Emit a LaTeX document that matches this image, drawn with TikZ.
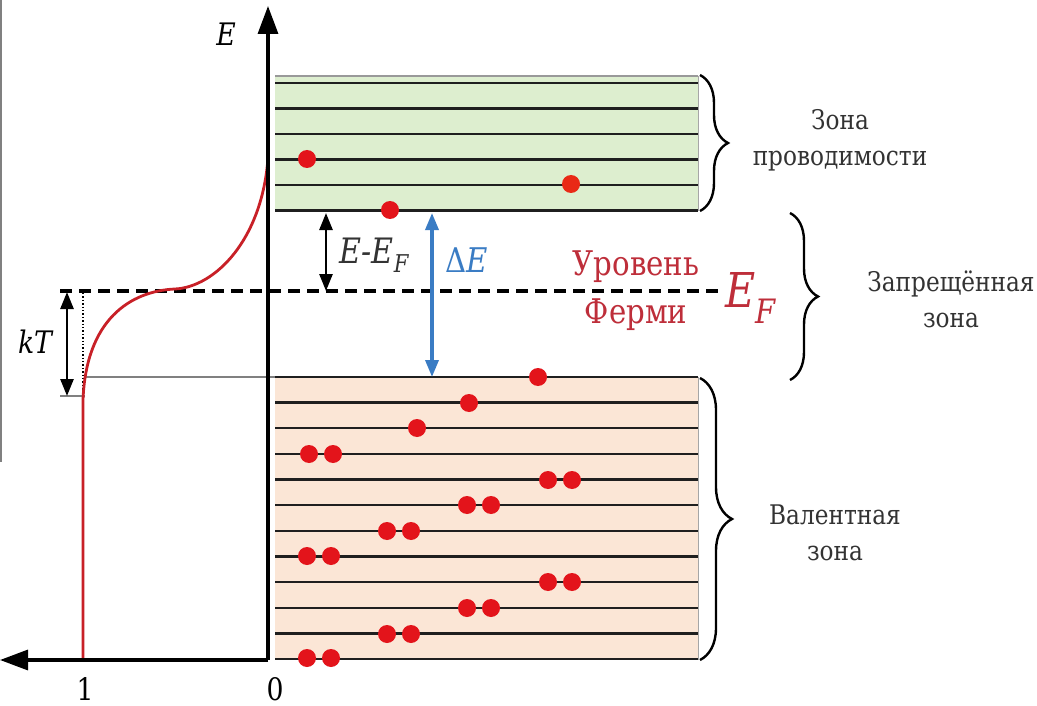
\documentclass[tikz,border=0pt]{standalone}
\usepackage{fontspec}
\setmainfont{DejaVu Serif}[FakeStretch=0.86]
\newfontfamily\tnr{DejaVu Serif}[FakeStretch=0.86]
\usetikzlibrary{arrows.meta,decorations.pathreplacing}
\definecolor{cbfill}{HTML}{DDEECF}
\definecolor{vbfill}{HTML}{FBE6D6}
\definecolor{elec}{HTML}{E3141B}
\definecolor{fermired}{HTML}{BE2E3A}
\definecolor{dEblue}{HTML}{3A7CC4}
\definecolor{curvered}{HTML}{C82027}
\definecolor{txtgray}{HTML}{333333}
\begin{document}
\begin{tikzpicture}[x=1pt,y=-1pt,
  axisline/.style={line width=3.2pt, -{Triangle[length=28pt,width=20pt]}},
  level/.style={line width=2.4pt, draw=black!88},
  electron/.style={circle, fill=elec, inner sep=0pt, minimum size=18pt},
  dimarrow/.style={line width=2.6pt, {Triangle[length=17pt,width=13pt]}-{Triangle[length=17pt,width=13pt]}},
  bandbrace/.style={decorate, decoration={brace, amplitude=28pt}, line width=2.4pt},
  lbl/.style={font=\tnr\fontsize{27}{36}\selectfont, align=center, text=txtgray},
  ax/.style={font=\tnr\fontsize{31}{40}\selectfont, inner sep=0pt},
]
\useasboundingbox (0,0) rectangle (1037,706);
\fill[white] (0,0) rectangle (1037,706);
\draw[gray, line width=2pt] (1,0) -- (1,462);

% conduction band
\fill[cbfill] (275,75) rectangle (698,211);
\draw[gray!80, line width=2pt] (275,76) -- (698,76);
\draw[gray!70, line width=1pt] (698,76) -- (698,211);
\foreach \y in {83,108.5,134,159.5,185,210.5} \draw[level] (275,\y) -- (698,\y);

% valence band
\fill[vbfill] (275,377) rectangle (698,660);
\draw[gray!70, line width=1pt] (698,377) -- (698,660);
\foreach \i in {0,...,11} \draw[level] (275,{377+25.64*\i}) -- (698,{377+25.64*\i});

% guide lines
\draw[gray, line width=1.2pt] (85,377) -- (275,377);
\draw[gray, line width=1.2pt] (60,396) -- (85,396);
\draw[black, dotted, line width=1.4pt] (83,293) -- (83,396);

% Fermi level
\coordinate (fl) at (60,291);
\coordinate (fr) at (722,291);
\draw[line width=4.5pt, dash pattern=on 12pt off 7pt] (fl) -- (fr);

% Fermi-Dirac curve
\coordinate (f0) at (83,660);
\coordinate (f1) at (83,400);
\coordinate (fm) at (175,289);
\coordinate (f2) at (268,158);
\draw[curvered, line width=2.8pt] (f0) -- (f1) .. controls (86,320) and (130,291) .. (fm) .. controls (215,287) and (262,240) .. (f2);

% axes
\coordinate (o) at (268,660);
\coordinate (etop) at (268,6);
\coordinate (xleft) at (0,660);
\draw[axisline] (o) -- (etop);
\draw[axisline] (o) -- (xleft);
\node[ax, font=\tnr\fontsize{31}{40}\itshape] (Elab) at (226,34) {E};
\node[ax] (one) at (85,689) {1};
\node[ax] (zero) at (275,689) {0};

% electrons conduction band
\node[electron] (c1) at (307,159) {};
\node[electron, fill=elec!80!orange] (c2) at (571,184) {};
\node[electron] (c3) at (390,210) {};

% electrons valence band
\node[electron] (v1) at (538,377) {};
\node[electron] (v2) at (469,403) {};
\node[electron] (v3) at (417,428) {};
\foreach \x/\y [count=\k] in {309/454, 548/480, 467/505, 387/531, 307/556, 548/582, 467/608, 387/634, 307/658} {
  \node[electron] (p\k a) at (\x,\y) {};
  \node[electron] (p\k b) at (\x+24,\y) {};
}

% kT arrow
\coordinate (kt1) at (67,292);
\coordinate (kt2) at (67,396);
\draw[dimarrow] (kt1) -- (kt2);
\node[ax, font=\tnr\fontsize{31}{40}\itshape] (kT) at (35,342) {kT};

% E - EF arrow
\coordinate (ee1) at (326,213);
\coordinate (ee2) at (326,291);
\draw[dimarrow] (ee1) -- (ee2);
\node[font=\tnr\fontsize{35}{40}\itshape, inner sep=0pt, text=txtgray] (EEF) at (374,255) {E-E\textsubscript{F}};

% Delta E arrow
\coordinate (de1) at (432,213);
\coordinate (de2) at (432,377);
\draw[dimarrow, line width=3.4pt, draw=dEblue, fill=dEblue] (de1) -- (de2);
\node[font=\tnr\fontsize{34}{40}\selectfont, inner sep=0pt, text=dEblue] (dE) at (467,260) {Δ\textit{E}};

% Fermi level labels
\node[font=\tnr\fontsize{34}{48}\selectfont, align=center, text=fermired, inner sep=0pt] (ur) at (636,291) {Уровень\\Ферми};
\node[font=\tnr\fontsize{48}{54}\itshape, text=fermired, inner sep=0pt] (EF) at (751,298) {E\textsubscript{F}};

% braces
\draw[bandbrace] (700,75) -- (700,211);
\draw[bandbrace] (790,213) -- (790,380);
\draw[bandbrace, decoration={brace, amplitude=32pt}] (700,378) -- (700,660);

\node[lbl] (cb) at (840,140) {Зона\\проводимости};
\node[lbl] (gap) at (951,299) {Запрещённая\\зона};
\node[lbl] (vb) at (835,533) {Валентная\\зона};
\end{tikzpicture}
\end{document}
